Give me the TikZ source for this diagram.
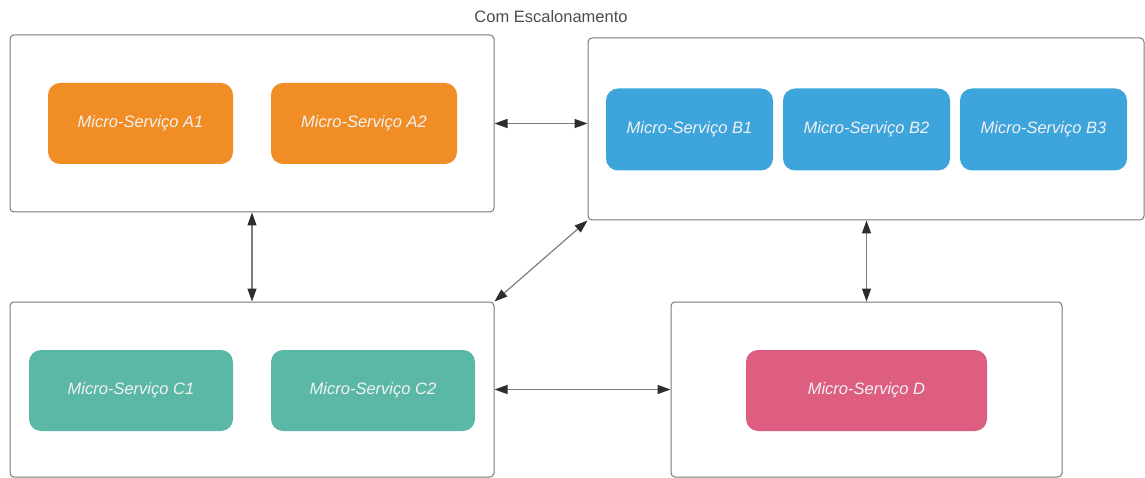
\documentclass[tikz,border=0pt]{standalone}
\usepackage{fontspec}
\setmainfont{Liberation Sans}
\definecolor{SvcOrange}{RGB}{240, 141, 36}
\definecolor{SvcBlue}{RGB}{61, 165, 220}
\definecolor{SvcTeal}{RGB}{92, 184, 166}
\definecolor{SvcPink}{RGB}{222, 94, 130}
\definecolor{EdgeGray}{RGB}{120, 120, 120}
\definecolor{LinkGray}{RGB}{125, 125, 125}
\definecolor{TipGray}{RGB}{45, 45, 45}
\usetikzlibrary{arrows.meta}

\begin{document}
\begin{tikzpicture}[x=1pt, y=-1pt,
  every node/.style={font=\fontsize{16.5}{19}\selectfont, align=center},
  group/.style={draw=EdgeGray, line width=1pt, rounded corners=4pt, fill=white},
  svc/.style={rounded corners=12pt, text=white!95!black, font=\fontsize{16.5}{19}\selectfont\itshape,
              minimum height=81pt},
  link/.style={draw=LinkGray, line width=1.2pt,
               {Triangle[length=13pt,width=9pt,color=TipGray]}-{Triangle[length=13pt,width=9pt,color=TipGray]}}]
\useasboundingbox (0,0) rectangle (1145,478);
\node[text=black!70] (title) at (551,17) {Com Escalonamento};

\node[group, minimum width=484pt, minimum height=177pt] (boxA) at (252,123.5) {};
\node[group, minimum width=556pt, minimum height=182pt] (boxB) at (866,129) {};
\node[group, minimum width=484pt, minimum height=175pt] (boxC) at (252,389.5) {};
\node[group, minimum width=391pt, minimum height=175pt] (boxD) at (866.5,389.5) {};

\node[svc, fill=SvcOrange, minimum width=185pt] (a1) at (140.5,123.5) {Micro-Serviço A1};
\node[svc, fill=SvcOrange, minimum width=186pt] (a2) at (364,123.5) {Micro-Serviço A2};
\node[svc, fill=SvcBlue, minimum width=167pt, minimum height=82pt] (b1) at (689.5,129.5) {Micro-Serviço B1};
\node[svc, fill=SvcBlue, minimum width=167pt, minimum height=82pt] (b2) at (866.5,129.5) {Micro-Serviço B2};
\node[svc, fill=SvcBlue, minimum width=167pt, minimum height=82pt] (b3) at (1043.5,129.5) {Micro-Serviço B3};
\node[svc, fill=SvcTeal, minimum width=204pt] (c1) at (131,390.5) {Micro-Serviço C1};
\node[svc, fill=SvcTeal, minimum width=204pt] (c2) at (373,390.5) {Micro-Serviço C2};
\node[svc, fill=SvcPink, minimum width=241pt] (d) at (866.5,390.5) {Micro-Serviço D};

\draw[link] (boxA.east) -- (boxA.east -| boxB.west);
\draw[link] (boxA.south) -- (boxC.north);
\draw[link] (boxB.south west) -- (boxC.north east);
\draw[link] (boxB.south -| boxD.north) -- (boxD.north);
\draw[link] (boxC.east) -- (boxD.west);
\end{tikzpicture}
\end{document}
